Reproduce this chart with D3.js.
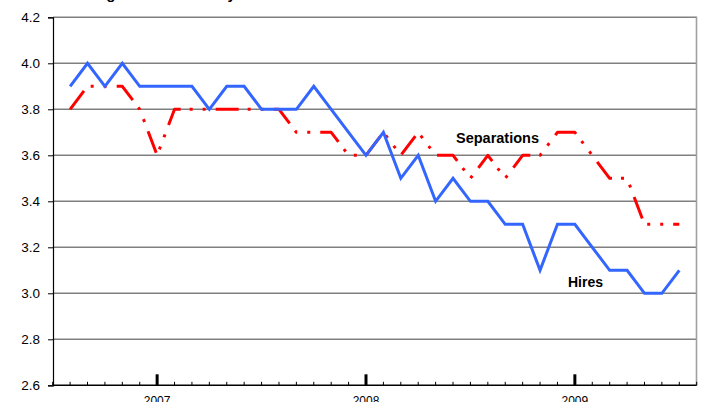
<!DOCTYPE html>
<html>
<head>
<meta charset="utf-8">
<script src="https://cdn.jsdelivr.net/npm/d3@7"></script>
<style>
  html, body { margin: 0; padding: 0; background: #fff; }
  svg { display: block; font-family: Arial, "Liberation Sans", sans-serif; }
</style>
</head>
<body>
<svg id="chart" width="701" height="402"></svg>
<script>
// Monthly index: 0 = Aug 2006 ... 35 = Jul 2009
const months = d3.range(36);
const hires = [3.9,4.0,3.9,4.0,3.9,3.9,3.9,3.9,3.8,3.9,3.9,3.8,3.8,3.8,3.9,3.8,3.7,3.6,3.7,3.5,3.6,3.4,3.5,3.4,3.4,3.3,3.3,3.1,3.3,3.3,3.2,3.1,3.1,3.0,3.0,3.1];
const separations = [3.8,3.9,3.9,3.9,3.8,3.6,3.8,3.8,3.8,3.8,3.8,3.8,3.8,3.7,3.7,3.7,3.6,3.6,3.7,3.6,3.7,3.6,3.6,3.5,3.6,3.5,3.6,3.6,3.7,3.7,3.6,3.5,3.5,3.3,3.3,3.3];
const yTicks = [2.6,2.8,3.0,3.2,3.4,3.6,3.8,4.0,4.2];
const yearLabels = ["2007","2008","2009"];
const yearTickIndex = [5, 17, 29];
const titleText = "Hiring and Turnover by Month";

const svg = d3.select("#chart");
const plotLeft = 53, plotRight = 696.5, plotTop = 17.3, plotBottom = 385.3;

const x = d3.scaleLinear().domain([-1, 36]).range([52.7, 696.7]);
const y = d3.scaleLinear().domain([2.6, 4.2]).range([plotBottom, plotTop]);

// Title (cut off at top, only descenders visible as in the reference)
svg.append("text").attr("x", 72).attr("y", -1.2)
  .attr("font-size", 15).attr("font-weight", "bold").attr("fill", "#000")
  .text(titleText);

// Gridlines
svg.append("g").selectAll("line").data(yTicks.filter(d => d > 2.6)).join("line")
  .attr("x1", plotLeft).attr("x2", plotRight)
  .attr("y1", d => y(d)).attr("y2", d => y(d))
  .attr("stroke", "#808080").attr("stroke-width", 1.6);

// Right border
svg.append("line").attr("x1", plotRight).attr("x2", plotRight).attr("y1", plotTop - 0.8).attr("y2", plotBottom)
  .attr("stroke", "#a0a0a0").attr("stroke-width", 1.6);

// Y axis
const yAxis = svg.append("g").attr("transform", `translate(${plotLeft},0)`)
  .call(d3.axisLeft(y).tickValues(yTicks).tickFormat(d3.format(".1f")).tickSize(5).tickPadding(8));
yAxis.select(".domain").attr("stroke", "#000").attr("stroke-width", 1.2);
yAxis.selectAll(".tick line").attr("stroke", "#000");
yAxis.selectAll("text").attr("font-size", 13.5).attr("fill", "#000")
  .attr("font-family", "Arial, 'Liberation Sans', sans-serif");

// X axis line
svg.append("line").attr("x1", x(-1)).attr("x2", x(36)).attr("y1", plotBottom).attr("y2", plotBottom)
  .attr("stroke", "#000").attr("stroke-width", 1.5);

// Minor ticks (inside, upward)
svg.append("g").selectAll("line").data(d3.range(-1, 37)).join("line")
  .attr("x1", d => x(d)).attr("x2", d => x(d))
  .attr("y1", plotBottom).attr("y2", plotBottom - 3.5)
  .attr("stroke", "#000").attr("stroke-width", 1);

// Major ticks
svg.append("g").selectAll("line").data(yearTickIndex).join("line")
  .attr("x1", d => x(d)).attr("x2", d => x(d))
  .attr("y1", plotBottom).attr("y2", plotBottom - 11)
  .attr("stroke", "#000").attr("stroke-width", 3);

// Year labels
svg.append("g").selectAll("text").data(yearLabels).join("text")
  .attr("x", (d, i) => x(yearTickIndex[i])).attr("y", 405)
  .attr("text-anchor", "middle").attr("font-size", 12).attr("fill", "#000")
  .text(d => d);

const line = d3.line().x((d, i) => x(months[i])).y(d => y(d));

// Separations (red dash-dot-dot)
svg.append("path").datum(separations)
  .attr("d", line).attr("fill", "none")
  .attr("stroke", "#ff0000").attr("stroke-width", 3)
  .attr("stroke-linejoin", "round")
  .attr("stroke-dasharray", "23,9,3,10,3,10");

// Hires (blue solid)
svg.append("path").datum(hires)
  .attr("d", line).attr("fill", "none")
  .attr("stroke", "#3366ff").attr("stroke-width", 3)
  .attr("stroke-linejoin", "miter");

// Series labels
svg.append("text").attr("x", 456).attr("y", 142.5)
  .attr("font-size", 14.5).attr("font-weight", "bold").attr("fill", "#000")
  .text("Separations");
svg.append("text").attr("x", 568).attr("y", 287)
  .attr("font-size", 14).attr("font-weight", "bold").attr("fill", "#000")
  .text("Hires");
</script>
</body>
</html>
